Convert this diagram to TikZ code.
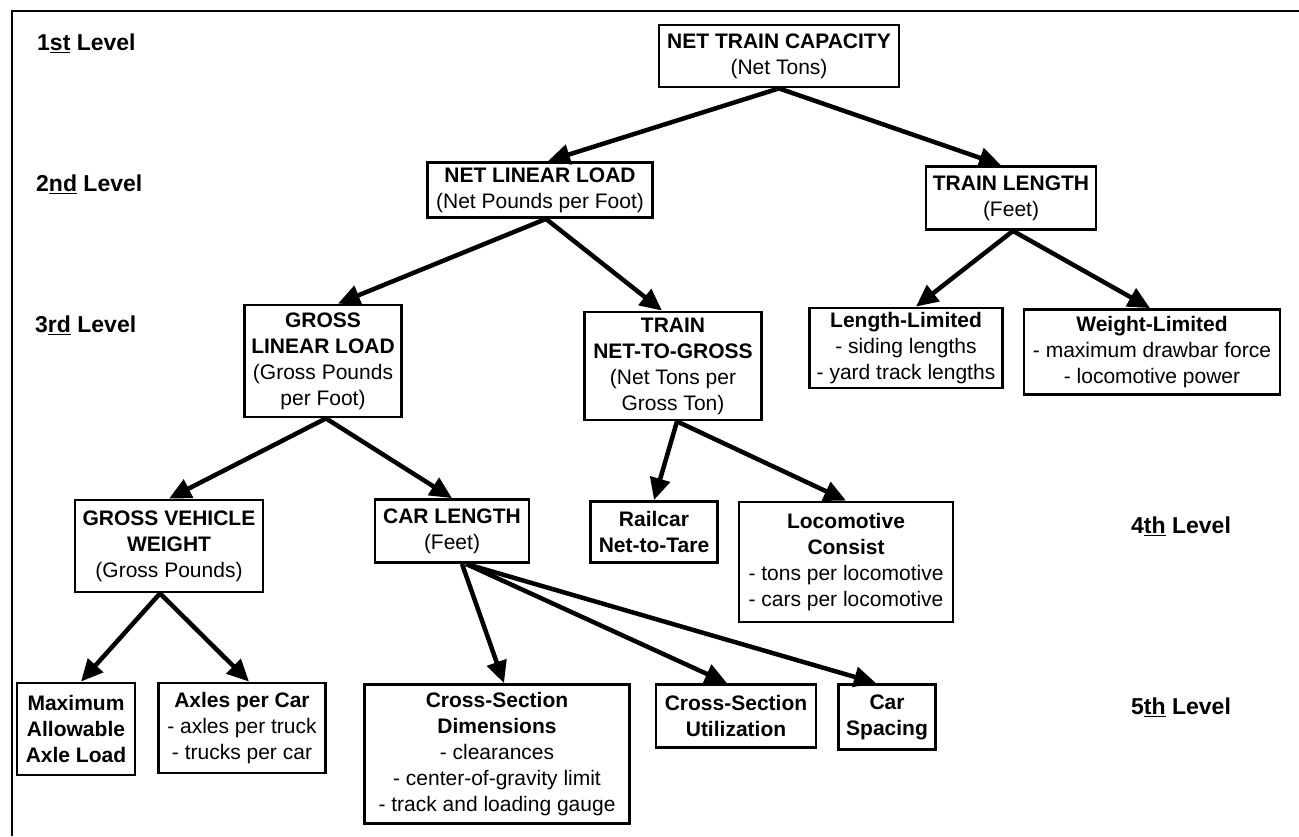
\documentclass[tikz,border=0pt]{standalone}
\usepackage{fontspec}
\setmainfont{Liberation Sans}
\usetikzlibrary{arrows.meta}
\begin{document}
\begin{tikzpicture}[x=1pt,y=-1pt,
  box/.style={draw, line width=2.8pt, inner sep=0pt, align=center,
    font=\fontsize{21}{26}\selectfont},
  lvl/.style={anchor=west, inner sep=0pt, font=\fontsize{23}{26}\selectfont\bfseries},
  arr/.style={line width=4.5pt, -{Triangle[length=22pt,width=20pt]}},
  frame/.style={line width=2pt}]
\useasboundingbox (0,0) rectangle (1299,836);
\draw[frame] (12,836) -- (12,11) -- (1299,11);

% level labels
\node[lvl] (l1) at (37,43) {1\underline{st} Level};
\node[lvl] (l2) at (36,184) {2\underline{nd} Level};
\node[lvl] (l3) at (35,325) {3\underline{rd} Level};
\node[lvl] (l4) at (1131,526) {4\underline{th} Level};
\node[lvl] (l5) at (1131,707) {5\underline{th} Level};

% boxes
\node[box, minimum width=240pt, minimum height=62pt] (top) at (779,56)
  {\textbf{NET TRAIN CAPACITY}\\(Net Tons)};
\node[box, minimum width=225pt, minimum height=55pt] (nll) at (540,190)
  {\textbf{NET LINEAR LOAD}\\(Net Pounds per Foot)};
\node[box, minimum width=170pt, minimum height=63pt] (tl) at (1011,198)
  {\textbf{TRAIN LENGTH}\\(Feet)};
\node[box, minimum width=157pt, minimum height=112pt] (gll) at (323,361)
  {\textbf{GROSS}\\\textbf{LINEAR LOAD}\\(Gross Pounds\\per Foot)};
\node[box, minimum width=177pt, minimum height=108pt] (tng) at (673,366)
  {\textbf{TRAIN}\\\textbf{NET-TO-GROSS}\\(Net Tons per\\Gross Ton)};
\node[box, minimum width=193pt, minimum height=80pt] (ll) at (906,348)
  {\textbf{Length-Limited}\\- siding lengths\\- yard track lengths};
\node[box, minimum width=256pt, minimum height=85pt] (wl) at (1152,352)
  {\textbf{Weight-Limited}\\- maximum drawbar force\\- locomotive power};
\node[box, minimum width=188pt, minimum height=92pt] (gvw) at (169,546)
  {\textbf{GROSS VEHICLE}\\\textbf{WEIGHT}\\(Gross Pounds)};
\node[box, minimum width=154pt, minimum height=63pt] (cl) at (452,531)
  {\textbf{CAR LENGTH}\\(Feet)};
\node[box, minimum width=127pt, minimum height=61pt] (rnt) at (654,532)
  {\textbf{Railcar}\\\textbf{Net-to-Tare}};
\node[box, minimum width=214pt, minimum height=120pt] (lc) at (846,562)
  {\textbf{Locomotive}\\\textbf{Consist}\\- tons per locomotive\\- cars per locomotive};
\node[box, minimum width=118pt, minimum height=92pt] (mal) at (76,729)
  {\textbf{Maximum}\\\textbf{Allowable}\\\textbf{Axle Load}};
\node[box, minimum width=167pt, minimum height=90pt] (apc) at (242,728)
  {\textbf{Axles per Car}\\- axles per truck\\- trucks per car};
\node[box, minimum width=265pt, minimum height=139pt] (csd) at (497,754)
  {\textbf{Cross-Section}\\\textbf{Dimensions}\\- clearances\\- center-of-gravity limit\\- track and loading gauge};
\node[box, minimum width=160pt, minimum height=63pt] (csu) at (736,716)
  {\textbf{Cross-Section}\\\textbf{Utilization}};
\node[box, minimum width=97pt, minimum height=65pt] (cs) at (887,717)
  {\textbf{Car}\\\textbf{Spacing}};

% connectors
\draw[arr] (top.south) -- ([xshift=8pt]nll.north);
\draw[arr] (top.south) -- ([xshift=-10pt]tl.north);
\draw[arr] ([xshift=6pt]nll.south) -- ([xshift=15pt]gll.north);
\draw[arr] ([xshift=6pt]nll.south) -- ([xshift=-11pt]tng.north);
\draw[arr] ([xshift=2pt]tl.south) -- ([xshift=10pt]ll.north);
\draw[arr] ([xshift=2pt]tl.south) -- ([xshift=-2pt]wl.north);
\draw[arr] ([xshift=3pt]gll.south) -- (gvw.north);
\draw[arr] ([xshift=3pt]gll.south) -- (cl.north);
\draw[arr] ([xshift=4pt]tng.south) -- (rnt.north);
\draw[arr] ([xshift=4pt]tng.south) -- (lc.north);
\draw[arr] ([xshift=-9pt]gvw.south) -- ([xshift=5pt]mal.north);
\draw[arr] ([xshift=-9pt]gvw.south) -- ([xshift=7pt]apc.north);
\draw[arr] ([xshift=10pt]cl.south) -- ([xshift=7pt]csd.north);
\draw[arr] ([xshift=14pt]cl.south) -- ([xshift=-9pt]csu.north);
\draw[arr] ([xshift=14pt]cl.south) -- ([xshift=-11pt]cs.north);
\end{tikzpicture}
\end{document}
